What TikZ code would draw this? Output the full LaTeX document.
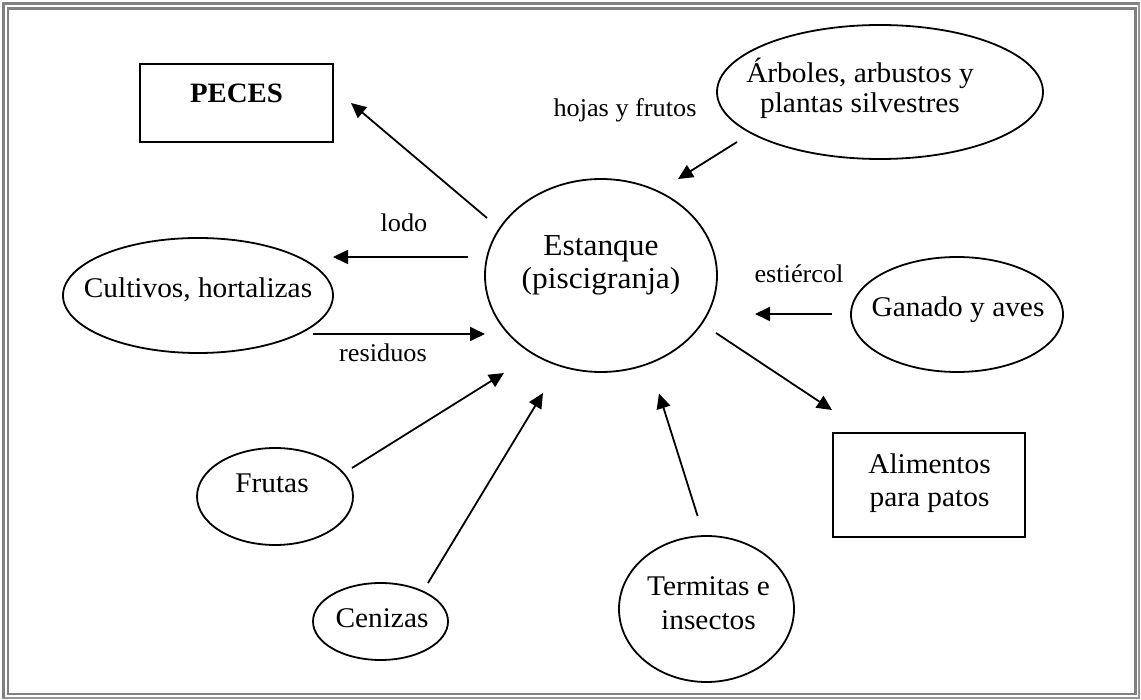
\documentclass[tikz,border=0pt]{standalone}
\usepackage{fontspec}
\setmainfont{Liberation Serif}[FakeStretch=1.03]
\usetikzlibrary{arrows.meta,shapes.geometric}
\definecolor{framedark}{RGB}{128,128,128}
\definecolor{framelight}{RGB}{150,150,150}
\tikzset{
  oval/.style={draw, ellipse, line width=1.8pt, inner sep=0pt},
  boxnode/.style={draw, rectangle, line width=1.8pt, inner sep=0pt},
  txt/.style={inner sep=0pt, anchor=base, font=\fontsize{28.5}{33}\selectfont},
  lbl/.style={inner sep=0pt, anchor=base, font=\fontsize{25.5}{30}\selectfont},
  flow/.style={line width=1.8pt, -{Triangle[length=15pt,width=14pt]}},
}
\newcommand\twolines[2]{\begin{tabular}[t]{@{}c@{}}#1\\#2\end{tabular}}
\begin{document}
\begin{tikzpicture}[x=1pt,y=-1pt]
\useasboundingbox (0,0) rectangle (1141,700);
% frame
\draw[framelight, line width=2.5pt] (3.5,3.5) rectangle (1139,698);
\draw[framedark, line width=2.5pt] (3.5,3.5) -- (3.5,698) (3.5,3.5) -- (1139,3.5);
\draw[framedark, line width=2.5pt] (8.2,8.5) rectangle (1135.5,694);

% shapes
\node[boxnode, minimum width=193pt, minimum height=78pt] (peces) at (236.5,103) {};
\node[txt, font=\fontsize{28}{33}\selectfont\bfseries] (peces-t) at (236.5,103) {PECES};

\node[oval, minimum width=232pt, minimum height=193pt] (est) at (601,275.5) {};
\node[txt, font=\fontsize{30.5}{32.5}\selectfont] (est-t) at (601,256) {\twolines{Estanque}{(piscigranja)}};

\node[oval, minimum width=270pt, minimum height=115pt] (cult) at (198,295.5) {};
\node[txt] (cult-t) at (198,298) {Cultivos, hortalizas};

\node[oval, minimum width=326pt, minimum height=134pt] (arb) at (880,92) {};
\node[txt, font=\fontsize{28.5}{30.5}\selectfont] (arb-t) at (860,82.5) {\twolines{Árboles, arbustos y}{plantas silvestres}};

\node[oval, minimum width=212pt, minimum height=115pt] (gan) at (957,314.5) {};
\node[txt] (gan-t) at (958,317) {Ganado y aves};

\node[boxnode, minimum width=192pt, minimum height=104pt] (ali) at (929,485) {};
\node[txt] (ali-t) at (929.5,474) {\twolines{Alimentos}{para patos}};

\node[oval, minimum width=175pt, minimum height=146pt] (ter) at (706.5,609) {};
\node[txt, font=\fontsize{28.5}{34.5}\selectfont] (ter-t) at (708.5,595) {\twolines{Termitas e}{insectos}};

\node[oval, minimum width=156pt, minimum height=97pt] (fru) at (275,496.5) {};
\node[txt] (fru-t) at (272,493) {Frutas};

\node[oval, minimum width=135pt, minimum height=77pt] (cen) at (380.5,621.5) {};
\node[txt] (cen-t) at (382,627) {Cenizas};

% connector end points
\coordinate (a1s) at (487,218);   \coordinate (a1e) at (351,103);
\coordinate (a2s) at (468,257);   \coordinate (a2e) at (333,257);
\coordinate (a3s) at (313,334);   \coordinate (a3e) at (485,334);
\coordinate (a4s) at (737,142);   \coordinate (a4e) at (678,179);
\coordinate (a5s) at (832,314);   \coordinate (a5e) at (755,314);
\coordinate (a6s) at (716,333);   \coordinate (a6e) at (832,410);
\coordinate (a7s) at (697.6,516); \coordinate (a7e) at (659,393.5);
\coordinate (a8s) at (352,468);   \coordinate (a8e) at (504,373);
\coordinate (a9s) at (428,583);   \coordinate (a9e) at (543,393);

\draw[flow] (a1s) -- (a1e);
\draw[flow] (a2s) -- (a2e);
\draw[flow] (a3s) -- (a3e);
\draw[flow] (a4s) -- (a4e);
\draw[flow] (a5s) -- (a5e);
\draw[flow] (a6s) -- (a6e);
\draw[flow] (a7s) -- (a7e);
\draw[flow] (a8s) -- (a8e);
\draw[flow] (a9s) -- (a9e);

% labels
\node[lbl] (l-lodo) at (404,232) {lodo};
\node[lbl] (l-res) at (383,361.5) {residuos};
\node[lbl] (l-hoj) at (625,117) {hojas y frutos};
\node[lbl] (l-est) at (799,283) {estiércol};
\end{tikzpicture}
\end{document}
